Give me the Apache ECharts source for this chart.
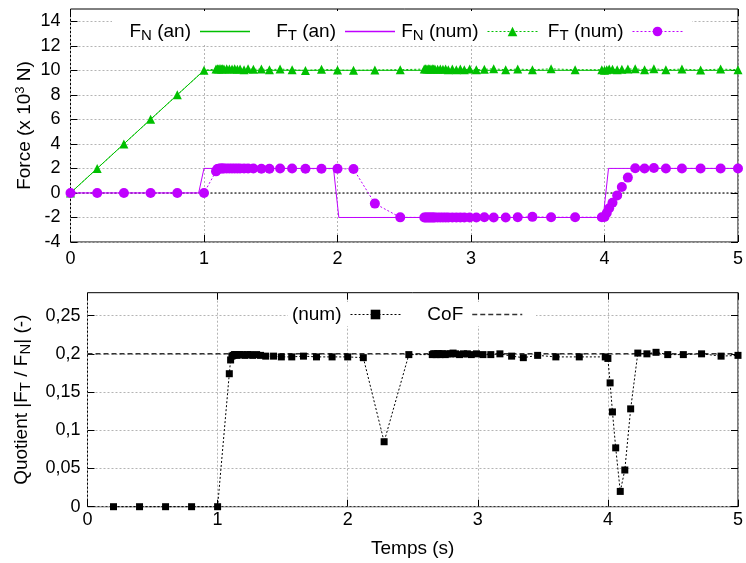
<!DOCTYPE html>
<html><head><meta charset="utf-8">
<script src="https://cdn.jsdelivr.net/npm/echarts@6/dist/echarts.min.js"></script>
<style>html,body{margin:0;padding:0;background:#fff}#c{width:746px;height:563px}</style>
</head><body><div id="c"></div>
<script>
// ---- data ----
const tFnAn = [0, 1, 5];
const fnAn = [0, 10, 10];
const tFtAn = [0, 0.96, 1.0, 1.97, 2.01, 3.99, 4.03, 5];
const ftAn = [0, 0, 2, 2, -2, -2, 2, 2];
const tNum = [0,0.2,0.4,0.6,0.8,1.0,
 1.09,1.10,1.11,1.12,1.13,1.14,1.15,1.17,1.19,1.21,1.23,1.25,1.27,1.30,1.33,1.37,1.43,1.49,1.57,1.66,1.76,1.88,2.00,2.12,
 2.28,2.47,
 2.65,2.66,2.67,2.68,2.69,2.70,2.71,2.72,2.73,2.75,2.77,2.79,2.81,2.83,2.86,2.89,2.92,2.95,2.99,3.04,3.10,3.17,3.26,3.35,3.46,3.60,3.78,3.98,4.00,
 4.017,4.035,4.06,4.095,4.13,4.175,4.23,4.30,4.37,4.46,4.58,4.72,4.87,5.0];
const fnNum = [0,2,4,6,8,10,
 10.1,10.12,10.1,10.15,10.1,10.12,10.1,10.12,10.1,10.1,10.12,10.08,10.1,10.05,10.12,10.08,10.1,10.05,10.1,10.05,9.98,10.08,10.02,10.0,
 10.03,10.05,
 10.1,10.12,10.1,10.12,10.1,10.1,10.12,10.1,10.1,10.08,10.1,10.08,10.1,10.05,10.1,10.05,10.1,10.05,10.1,10.05,10.08,10.12,10.05,10.1,10.05,10.12,10.05,10.05,10.0,
 10.05,10.1,10.08,10.05,10.08,10.1,10.12,10.05,10.12,10.05,10.1,10.02,10.1,10.05];
const ftNum = [0,0,0,0,0,0,
 1.76,1.95,1.98,2.0,2.0,2.0,2.0,2.0,2.0,2.0,2.0,2.0,2.0,2.0,2.0,2.0,1.98,1.98,2.0,2.0,1.98,1.98,1.98,1.95,
 -0.87,-1.99,
 -2,-2,-2,-2,-2,-2,-2,-2,-2,-2,-2,-2,-2,-2,-2,-2,-2,-2,-2,-2,-1.98,-2.0,-2.0,-1.98,-1.95,-1.98,-1.98,-1.98,-1.96,
 -1.64,-1.25,-0.80,-0.2,0.49,1.25,2.02,2.0,2.03,2.0,2.0,2.0,2.0,2.0];
const ratioNum = [null,0,0,0,0,0,
 0.174,0.192,0.197,0.198,0.199,0.199,0.198,0.199,0.199,0.198,0.199,0.199,0.198,0.199,0.198,0.197,0.197,0.196,0.196,0.197,0.196,0.196,0.196,0.195,
 0.085,0.199,
 0.199,0.2,0.2,0.199,0.2,0.2,0.199,0.2,0.2,0.199,0.2,0.2,0.201,0.2,0.199,0.2,0.2,0.199,0.2,0.199,0.199,0.2,0.197,0.195,0.198,0.196,0.196,0.196,0.194,
 0.162,0.124,0.077,0.020,0.048,0.128,0.201,0.200,0.202,0.199,0.199,0.200,0.197,0.198];
const zeroLine = [[0,0],[5,0]];
const cofLine = [[0,0.2],[5,0.2]];
const xTicks = [0,1,2,3,4,5];
const forceTicks = [-4,-2,0,2,4,6,8,10,12,14];
const ratioTicks = [0,0.05,0.1,0.15,0.2,0.25];

// ---- chart ----
const FONT = '"Liberation Sans", Arial, sans-serif';
const GREEN = '#00c000', MAG = '#c000ff', COF = '#333';
const zip = (a, b) => a.map((v, i) => [v, b[i]]);
const rich = {
  s: {fontSize: 15, fontFamily: FONT, color: '#000', padding: [9, 0, 0, 0]},
  p: {fontSize: 13, fontFamily: FONT, color: '#000', padding: [0, 0, 9, 0]},
  g: {width: 4}
};
const labels = {
  FN_an: 'F{s|N} (an){g|}', FT_an: 'F{s|T} (an){g|}', FN_num: 'F{s|N} (num){g|}', FT_num: 'F{s|T} (num){g|}',
  ratio: '(num){g|}', CoF: 'CoF{g|}'
};
const gridLine = {show: true, lineStyle: {color: '#b4b4b4', type: [2, 2], width: 1}};
function leg(name, right, top, color, ltype, lw, mode) {
  const l = {data: [name], right: right, top: top, align: 'right', orient: 'horizontal',
    itemWidth: 50, itemHeight: 12, itemGap: 0, padding: 0, selectedMode: false,
    formatter: n => labels[n], lineStyle: {type: ltype, width: lw},
    textStyle: {fontSize: 19, fontFamily: FONT, color: '#000', rich: rich}};
  if (mode === 'rect') { l.icon = 'rect'; l.itemHeight = 1.4; l.itemStyle = {color: color, borderWidth: 0}; }
  if (mode === 'hide') { l.itemStyle = {opacity: 0}; }
  return l;
}
function xAx(gi, pos, labelsOn) {
  return {type: 'value', gridIndex: gi, position: pos, min: 0, max: 5, interval: 1,
    axisLine: {show: false, onZero: false}, splitLine: labelsOn ? gridLine : {show: false},
    axisTick: {inside: true, length: 7, lineStyle: {color: '#000'}},
    axisLabel: {show: labelsOn, fontSize: 18, fontFamily: FONT, color: '#000', margin: 6}};
}
function yAx(gi, pos, mn, mx, ticks) {
  return {type: 'value', gridIndex: gi, position: pos, min: mn, max: mx,
    axisLine: {show: false, onZero: false}, splitLine: pos === 'left' ? gridLine : {show: false},
    axisTick: {inside: true, length: 7, customValues: ticks, lineStyle: {color: '#000'}},
    axisLabel: {show: pos === 'left', customValues: ticks, fontSize: 18, fontFamily: FONT, color: '#000', margin: 10}};
}
const yTop = yAx(0, 'left', -4, 15, forceTicks);
Object.assign(yTop, {name: 'Force (x 10{p|3} N)', nameLocation: 'middle', nameRotate: 90, nameGap: 35,
  nameMoveOverlap: false,
  nameTextStyle: {fontSize: 19, fontFamily: FONT, color: '#000', rich: rich}});
const yBot = yAx(1, 'left', 0, 0.28, ratioTicks);
Object.assign(yBot, {name: 'Quotient |F{s|T} / F{s|N}| (-)', nameLocation: 'middle', nameRotate: 90, nameGap: 54,
  nameMoveOverlap: false,
  nameTextStyle: {fontSize: 19, fontFamily: FONT, color: '#000', rich: rich}});
yBot.axisLabel.margin = 7;
yBot.axisLabel.formatter = v => String(v).replace('.', ',');
const xTop = xAx(0, 'bottom', true);
xTop.axisLabel.margin = 8;
const xBot = xAx(1, 'bottom', true);
xBot.axisLabel.margin = 4;
Object.assign(xBot, {name: 'Temps (s)', nameLocation: 'middle', nameGap: 33, nameMoveOverlap: false,
  nameTextStyle: {fontSize: 19, fontFamily: FONT, color: '#000'}});

const option = {
  animation: false,
  backgroundColor: '#fff',
  grid: [
    {left: 70.5, top: 9, width: 670, height: 233, show: true, borderColor: '#000', borderWidth: 1},
    {left: 87.5, top: 292.7, width: 652.5, height: 214, show: true, borderColor: '#000', borderWidth: 1}
  ],
  graphic: [
    {type: 'rect', shape: {x: 112, y: 11, width: 580, height: 32}, style: {fill: '#fff'}, z: 1},
    {type: 'rect', shape: {x: 288, y: 302, width: 248, height: 24}, style: {fill: '#fff'}, z: 1}
  ],
  legend: [
    leg('FN_an', 496, 22, GREEN, 'solid', 1, 'rect'),
    leg('FT_an', 351, 22, MAG, 'solid', 1, 'rect'),
    leg('FN_num', 208, 22, GREEN, [2, 2], 1, ''),
    leg('FT_num', 63, 22, MAG, [2, 2], 1, ''),
    leg('ratio', 345, 305, '#000', [2, 2], 1, ''),
    leg('CoF', 223, 305, COF, [5, 3], 1.5, 'hide')
  ],
  xAxis: [xTop, xAx(0, 'top', false), xBot, xAx(1, 'top', false)],
  yAxis: [yTop, yAx(0, 'right', -4, 15, forceTicks), yBot, yAx(1, 'right', 0, 0.28, ratioTicks)],
  series: [
    {name: 'zero', type: 'line', xAxisIndex: 0, yAxisIndex: 0, data: zeroLine, symbol: 'none', silent: true,
      lineStyle: {color: '#000', width: 1, type: [2, 2]}, z: 1},
    {name: 'FN_an', type: 'line', xAxisIndex: 0, yAxisIndex: 0, data: zip(tFnAn, fnAn), symbol: 'none',
      color: GREEN, lineStyle: {color: GREEN, width: 1}},
    {name: 'FT_an', type: 'line', xAxisIndex: 0, yAxisIndex: 0, data: zip(tFtAn, ftAn), symbol: 'none',
      color: MAG, lineStyle: {color: MAG, width: 1}},
    {name: 'FN_num', type: 'line', xAxisIndex: 0, yAxisIndex: 0, data: zip(tNum, fnNum), symbol: 'triangle', symbolSize: 9,
      clip: false, color: GREEN, itemStyle: {color: GREEN}, lineStyle: {color: GREEN, width: 1, type: [2, 2]}},
    {name: 'FT_num', type: 'line', xAxisIndex: 0, yAxisIndex: 0, data: zip(tNum, ftNum), symbol: 'circle', symbolSize: 10,
      clip: false, color: MAG, itemStyle: {color: MAG}, lineStyle: {color: MAG, width: 1, type: [2, 2]}},
    {name: 'CoF', type: 'line', xAxisIndex: 2, yAxisIndex: 2, data: cofLine, symbol: 'none',
      color: COF, lineStyle: {color: COF, width: 1.5, type: [5, 3]}},
    {name: 'ratio', type: 'line', xAxisIndex: 2, yAxisIndex: 2, data: zip(tNum, ratioNum), symbol: 'rect', symbolSize: 7,
      clip: false, connectNulls: false, color: '#000', itemStyle: {color: '#000'}, lineStyle: {color: '#000', width: 1, type: [2, 2]}}
  ]
};
echarts.init(document.getElementById('c'), null, {renderer: 'canvas'}).setOption(option);
</script></body></html>
